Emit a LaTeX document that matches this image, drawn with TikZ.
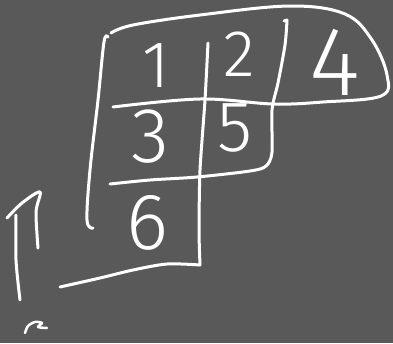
\documentclass[tikz,border=0pt]{standalone}
\usepackage{fontspec}
\setmainfont{Fira Sans Light}
\definecolor{board}{RGB}{89,89,89}
\tikzset{
  chalk/.style={draw=white, line width=3pt, line cap=round, line join=round},
  digit/.style={text=white, inner sep=0pt, anchor=center}
}
\begin{document}
\begin{tikzpicture}[x=1pt,y=-1pt]
\fill[board] (0,0) rectangle (393,343);
\useasboundingbox (0,0) rectangle (393,343);
% big loop with divider
\draw[chalk] plot[smooth, tension=0.6] coordinates {(111,33) (133,25) (200,15) (290,6) (345,14) (372,40) (387,75) (381,96) (323,102) (273,104) (200,99) (113,107)};
% left vertical
\draw[chalk] plot[smooth, tension=0.6] coordinates {(108,37) (104,42) (98,100) (90,170) (87,220) (93,228)};
% vertical between 1 and 2 + box 6
\draw[chalk] plot[smooth, tension=0.4] coordinates {(208,43) (205,100) (200,170) (199,230) (200,265)};
\draw[chalk] plot[smooth, tension=0.5] coordinates {(200,265) (167,264) (133,270) (100,278) (60,287)};
% horizontal under 3/5 and vertical up to top
\draw[chalk] plot[smooth, tension=0.5] coordinates {(110,184) (150,180) (197,177) (250,171) (266,166) (272,152) (272,110) (278,83) (285,45) (287,20)};
\draw[chalk] (287,20) -- (284,21);
% left arrow
\draw[chalk] plot[smooth, tension=0.5] coordinates {(20,300) (16,260) (16,215)};
\draw[chalk] plot[smooth, tension=0.5] coordinates {(7,218) (22,203) (40,192) (36,212) (38,248)};
% small squiggle
\draw[chalk, line width=2.5pt] plot[smooth, tension=0.5] coordinates {(25,333) (28,326) (35,322) (42,323) (38,327) (47,328)};
% digits
\node[digit, font=\fontsize{66}{66}\selectfont] (d1) at (156,66) {1};
\node[digit, font=\fontsize{66}{66}\selectfont] (d2) at (239,54) {2};
\node[digit, font=\fontsize{78}{78}\selectfont] (d3) at (150,137) {3};
\node[digit, font=\fontsize{98}{98}\selectfont] (d4) at (335,62) {4};
\node[digit, font=\fontsize{72}{72}\selectfont] (d5) at (235,128) {5};
\node[digit, font=\fontsize{80}{80}\selectfont] (d6) at (147,223) {6};
\end{tikzpicture}
\end{document}
